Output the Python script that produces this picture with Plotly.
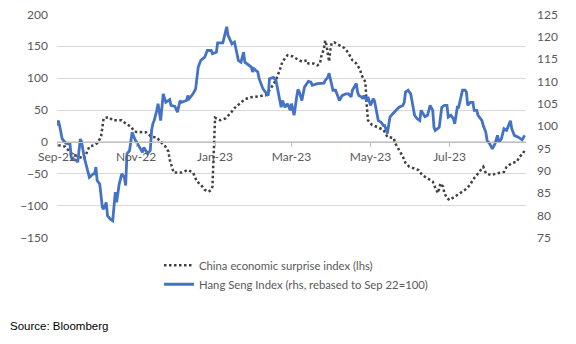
import plotly.graph_objects as go

# China economic surprise index (lhs)
cesi_dates = [
    "2022-09-02", "2022-09-07", "2022-09-12", "2022-09-17", "2022-09-22", "2022-09-25", "2022-09-26",
    "2022-09-30", "2022-10-02", "2022-10-05", "2022-10-06", "2022-10-07", "2022-10-11", "2022-10-14",
    "2022-10-17", "2022-10-21", "2022-10-24", "2022-10-28", "2022-10-31", "2022-11-05", "2022-11-09",
    "2022-11-13", "2022-11-17", "2022-11-20", "2022-11-23", "2022-11-26", "2022-11-27", "2022-11-29",
    "2022-11-30", "2022-12-03", "2022-12-06", "2022-12-11", "2022-12-15", "2022-12-18", "2022-12-21",
    "2022-12-24", "2022-12-27", "2022-12-29", "2022-12-30", "2023-01-01", "2023-01-05", "2023-01-09",
    "2023-01-13", "2023-01-16", "2023-01-20", "2023-01-24", "2023-01-29", "2023-02-04", "2023-02-09",
    "2023-02-13", "2023-02-17", "2023-02-20", "2023-02-22", "2023-02-26", "2023-03-02", "2023-03-06",
    "2023-03-09", "2023-03-13", "2023-03-14", "2023-03-18", "2023-03-21", "2023-03-23", "2023-03-24",
    "2023-03-26", "2023-03-27", "2023-03-28", "2023-03-29", "2023-03-30", "2023-03-31", "2023-04-01",
    "2023-04-03", "2023-04-07", "2023-04-11", "2023-04-14", "2023-04-17", "2023-04-20", "2023-04-23",
    "2023-04-24", "2023-04-27", "2023-04-28", "2023-04-29", "2023-05-02", "2023-05-07", "2023-05-11",
    "2023-05-14", "2023-05-19", "2023-05-20", "2023-05-23", "2023-05-26", "2023-05-28", "2023-05-31",
    "2023-06-03", "2023-06-07", "2023-06-10", "2023-06-14", "2023-06-18", "2023-06-20", "2023-06-22",
    "2023-06-24", "2023-06-26", "2023-06-27", "2023-06-29", "2023-07-01", "2023-07-05", "2023-07-09",
    "2023-07-13", "2023-07-17", "2023-07-19", "2023-07-22", "2023-07-25", "2023-07-27", "2023-07-29",
    "2023-08-02", "2023-08-07", "2023-08-12", "2023-08-14", "2023-08-18", "2023-08-22", "2023-08-24",
    "2023-08-27", "2023-08-28",
]
cesi_values = [
    -5, -7, -18, -23, -26, -13, -7,
    -5, -2, 8, 26, 37, 39, 34,
    34, 34, 29, 24, 16, 16, 15,
    8, 7, 0, -5, -15, -28, -41,
    -48, -48, -48, -44, -48, -62, -67,
    -75, -78, -75, -70, 38, 34, 37,
    45, 53, 60, 67, 70, 71, 73,
    84, 97, 113, 126, 136, 134, 129,
    126, 128, 123, 123, 120, 123, 134,
    146, 159, 152, 138, 126, 144, 155,
    156, 152, 147, 139, 128, 123, 113,
    105, 94, 60, 34, 27, 23, 19,
    8, 6, -2, -13, -23, -33, -39,
    -41, -44, -52, -57, -62, -72, -80,
    -65, -70, -80, -88, -91, -86, -80,
    -75, -67, -59, -52, -44, -39, -49,
    -52, -49, -47, -39, -33, -31, -23,
    -18, -10,
]

# Hang Seng Index (rhs, rebased to Sep 22 = 100)
hsi_dates = [
    "2022-09-01", "2022-09-02", "2022-09-03", "2022-09-05", "2022-09-08", "2022-09-11", "2022-09-12",
    "2022-09-13", "2022-09-16", "2022-09-17", "2022-09-19", "2022-09-20", "2022-09-22", "2022-09-24",
    "2022-09-26", "2022-09-29", "2022-09-30", "2022-10-01", "2022-10-02", "2022-10-04", "2022-10-06",
    "2022-10-07", "2022-10-09", "2022-10-10", "2022-10-12", "2022-10-14", "2022-10-15", "2022-10-16",
    "2022-10-17", "2022-10-19", "2022-10-21", "2022-10-23", "2022-10-24", "2022-10-25", "2022-10-27",
    "2022-10-29", "2022-10-31", "2022-11-04", "2022-11-06", "2022-11-07", "2022-11-10", "2022-11-12",
    "2022-11-13", "2022-11-14", "2022-11-15", "2022-11-17", "2022-11-18", "2022-11-20", "2022-11-22",
    "2022-11-24", "2022-11-27", "2022-11-28", "2022-12-01", "2022-12-03", "2022-12-05", "2022-12-06",
    "2022-12-10", "2022-12-11", "2022-12-12", "2022-12-15", "2022-12-17", "2022-12-19", "2022-12-21",
    "2022-12-24", "2022-12-26", "2022-12-29", "2022-12-30", "2023-01-02", "2023-01-03", "2023-01-07",
    "2023-01-08", "2023-01-10", "2023-01-11", "2023-01-14", "2023-01-16", "2023-01-18", "2023-01-19",
    "2023-01-21", "2023-01-23", "2023-01-24", "2023-01-26", "2023-01-29", "2023-01-30", "2023-01-31",
    "2023-02-03", "2023-02-04", "2023-02-07", "2023-02-09", "2023-02-11", "2023-02-12", "2023-02-15",
    "2023-02-17", "2023-02-18", "2023-02-20", "2023-02-21", "2023-02-22", "2023-02-24", "2023-02-26",
    "2023-02-28", "2023-03-01", "2023-03-03", "2023-03-05", "2023-03-06", "2023-03-07", "2023-03-09",
    "2023-03-11", "2023-03-14", "2023-03-16", "2023-03-17", "2023-03-21", "2023-03-24", "2023-03-26",
    "2023-03-27", "2023-03-29", "2023-03-30", "2023-03-31", "2023-04-02", "2023-04-04", "2023-04-05",
    "2023-04-07", "2023-04-09", "2023-04-12", "2023-04-14", "2023-04-16", "2023-04-17", "2023-04-20",
    "2023-04-21", "2023-04-22", "2023-04-24", "2023-04-25", "2023-04-26", "2023-04-28", "2023-04-29",
    "2023-05-01", "2023-05-03", "2023-05-04", "2023-05-07", "2023-05-09", "2023-05-11", "2023-05-12",
    "2023-05-14", "2023-05-16", "2023-05-18", "2023-05-21", "2023-05-23", "2023-05-26", "2023-05-27",
    "2023-05-28", "2023-05-30", "2023-06-01", "2023-06-03", "2023-06-04", "2023-06-06", "2023-06-08",
    "2023-06-09", "2023-06-12", "2023-06-14", "2023-06-16", "2023-06-18", "2023-06-19", "2023-06-20",
    "2023-06-23", "2023-06-25", "2023-06-27", "2023-06-29", "2023-06-30", "2023-07-02", "2023-07-04",
    "2023-07-05", "2023-07-07", "2023-07-08", "2023-07-10", "2023-07-11", "2023-07-13", "2023-07-14",
    "2023-07-15", "2023-07-17", "2023-07-19", "2023-07-20", "2023-07-22", "2023-07-23", "2023-07-26",
    "2023-07-27", "2023-07-29", "2023-07-30", "2023-08-01", "2023-08-03", "2023-08-05", "2023-08-07",
    "2023-08-08", "2023-08-10", "2023-08-12", "2023-08-14", "2023-08-15", "2023-08-17", "2023-08-18",
    "2023-08-20", "2023-08-23", "2023-08-26", "2023-08-28",
]
hsi_values = [
    100.1, 101.2, 100.1, 97.1, 96.1, 96.0, 93.0,
    92.6, 92.3, 91.9, 97.1, 96.4, 93.0, 90.8,
    88.5, 89.3, 89.3, 90.8, 87.8, 87.0, 81.8,
    81.4, 82.9, 79.9, 79.2, 78.8, 83.3, 85.2,
    82.9, 87.0, 89.3, 88.5, 86.7, 93.8, 94.5,
    98.6, 97.1, 95.2, 94.1, 95.2, 93.8, 94.5,
    99.0, 100.5, 101.2, 103.5, 105.0, 101.2, 107.2,
    105.3, 105.9, 104.6, 104.4, 103.1, 105.7, 105.3,
    105.7, 106.8, 106.1, 107.2, 108.3, 113.2, 114.7,
    115.4, 116.9, 116.9, 116.2, 116.5, 118.6, 118.6,
    119.9, 122.2, 120.3, 118.4, 118.8, 116.5, 114.7,
    114.3, 116.5, 114.3, 113.9, 113.2, 112.1, 112.8,
    112.1, 110.6, 108.3, 107.6, 106.8, 110.6, 110.9,
    110.2, 108.7, 106.1, 104.2, 105.7, 104.2, 105.0,
    103.5, 105.0, 102.4, 106.5, 108.2, 107.6, 105.7,
    108.7, 110.0, 109.8, 109.1, 109.5, 109.6, 109.6,
    110.2, 110.9, 111.8, 110.6, 108.0, 108.0, 107.2,
    105.7, 106.8, 107.2, 107.2, 106.5, 108.0, 109.5,
    107.6, 106.8, 106.5, 106.1, 106.8, 105.7, 106.5,
    104.6, 106.1, 105.7, 101.2, 100.9, 100.1, 100.1,
    98.3, 102.0, 102.7, 103.5, 104.2, 104.6, 105.3,
    107.6, 108.0, 107.2, 104.2, 102.4, 101.6, 101.2,
    103.5, 102.1, 102.4, 104.6, 103.5, 99.7, 99.0,
    99.7, 104.2, 104.6, 104.6, 102.0, 102.4, 101.6,
    100.5, 104.2, 104.2, 107.2, 108.0, 108.0, 107.6,
    104.6, 105.3, 105.3, 103.5, 103.5, 102.4, 101.2,
    100.1, 98.6, 96.7, 96.0, 94.9, 96.0, 97.9,
    96.4, 97.1, 99.4, 99.0, 99.7, 101.2, 99.4,
    97.9, 97.5, 96.9, 97.9,
]

x_tick_vals = ["2022-09-01", "2022-11-01", "2023-01-01", "2023-03-01", "2023-05-01", "2023-07-01"]
x_tick_text = ["Sep-22", "Nov-22", "Jan-23", "Mar-23", "May-23", "Jul-23"]

series_names = ["China economic surprise index (lhs)", "Hang Seng Index (rhs, rebased to Sep 22=100)"]
source_text = "Source: Bloomberg"

FONT = "Lato"
GREY = "#595959"
GRID = "#d9d9d9"

# axis ranges (a hair wider so the end gridlines are drawn)
lhs_range = [-150.5, 200.5]
rhs_range = [75 - 0.5 / 7, 125 + 0.5 / 7]

fig = go.Figure()
fig.add_trace(go.Scatter(
    x=cesi_dates, y=cesi_values, name=series_names[0], mode="lines",
    line=dict(color="#404040", width=2.5, dash="2.5px,2.5px"), yaxis="y",
))
fig.add_trace(go.Scatter(
    x=hsi_dates, y=hsi_values, name=series_names[1], mode="lines",
    line=dict(color="#4472C4", width=2.8), yaxis="y2",
))

fig.update_layout(
    width=576, height=344,
    margin=dict(l=57, r=50, t=14, b=106, autoexpand=False),
    paper_bgcolor="white", plot_bgcolor="white",
    font=dict(family=FONT, size=12, color=GREY),
    showlegend=True,
    legend=dict(
        x=0.2175, y=-0.057, xanchor="left", yanchor="top",
        font=dict(family=FONT, size=11.3, color=GREY),
        bgcolor="rgba(0,0,0,0)", tracegroupgap=0,
    ),
    xaxis=dict(
        type="date", range=["2022-09-01", "2023-08-29"],
        tickvals=x_tick_vals, ticktext=x_tick_text,
        anchor="free", position=150.5 / 351, automargin=False,
        showline=True, linecolor="#bfbfbf", linewidth=1,
        ticks="outside", ticklen=4, tickcolor="#bfbfbf",
        showgrid=False, zeroline=False,
        tickfont=dict(family=FONT, size=12, color=GREY),
    ),
    yaxis=dict(
        range=lhs_range, tick0=-150, dtick=50, automargin=False,
        showgrid=True, gridcolor=GRID, gridwidth=1,
        zeroline=False, showline=False, ticks="",
        ticklabelstandoff=8,
        tickfont=dict(family=FONT, size=12, color=GREY),
    ),
    yaxis2=dict(
        range=rhs_range, tick0=75, dtick=5, automargin=False,
        overlaying="y", side="right",
        showgrid=False, zeroline=False, showline=False, ticks="",
        ticklabelstandoff=10,
        tickfont=dict(family=FONT, size=12, color=GREY),
    ),
    annotations=[dict(
        text=source_text, xref="paper", yref="paper",
        x=-0.105, y=-0.393, xanchor="left", yanchor="middle", showarrow=False,
        font=dict(family="Liberation Sans", size=11.5, color="#000000"),
    )],
)

fig.write_html("out.html")
